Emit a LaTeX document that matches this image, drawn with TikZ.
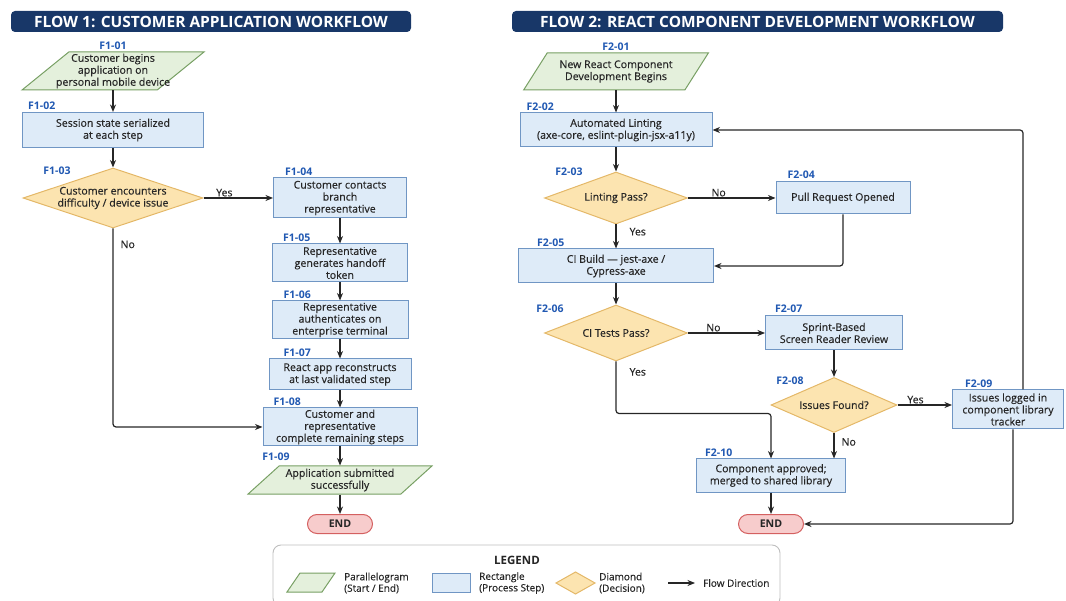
\documentclass[tikz,border=0pt]{standalone}
\usepackage{fontspec}
\setmainfont{Open Sans}
\newfontfamily\boxfont{Open Sans}[FakeBold=0.35]
\usetikzlibrary{positioning, arrows.meta, shapes.geometric}

\definecolor{navy}{RGB}{24,55,104}
\definecolor{idblue}{RGB}{32,88,178}
\definecolor{greenfill}{RGB}{228,240,220}
\definecolor{greenline}{RGB}{120,160,100}
\definecolor{bluefill}{RGB}{222,235,248}
\definecolor{blueline}{RGB}{112,150,196}
\definecolor{tanfill}{RGB}{252,228,176}
\definecolor{tanline}{RGB}{228,184,104}
\definecolor{pinkfill}{RGB}{247,204,204}
\definecolor{pinkline}{RGB}{212,96,96}
\definecolor{flowline}{RGB}{38,38,38}
\definecolor{legline}{RGB}{190,190,190}

\tikzset{
  greenshape/.style={draw=greenline, fill=greenfill, line width=1pt},
  blueshape/.style={draw=blueline, fill=bluefill, line width=1pt},
  tanshape/.style={draw=tanline, fill=tanfill, line width=1pt},
  boxtext/.style={align=center, font=\boxfont\fontsize{10.6}{12}\selectfont, text=black!85},
  proc/.style={blueshape, boxtext, inner sep=0pt},
  startend/.style={greenshape, boxtext, trapezium, trapezium stretches=true, inner xsep=-22pt, inner ysep=0pt},
  decision/.style={tanshape, boxtext, diamond, inner sep=-6pt},
  endpill/.style={draw=pinkline, fill=pinkfill, line width=1pt, rounded corners=9.5pt,
    minimum width=65pt, minimum height=19pt, inner sep=0pt, font=\fontsize{10.6}{12}\selectfont\bfseries, text=black!85},
  titlebar/.style={fill=navy, rounded corners=4pt, minimum height=21pt, inner sep=0pt,
    text=white, font=\fontsize{15.5}{17}\selectfont\bfseries},
  idlab/.style={text=idblue, font=\fontsize{10.5}{12}\selectfont\bfseries, inner sep=1pt},
  edgelab/.style={font=\boxfont\fontsize{10.5}{12}\selectfont, text=black!85, inner sep=1pt},
  legtext/.style={align=left, anchor=west, font=\boxfont\fontsize{10}{11.5}\selectfont, text=black!85, inner sep=0pt},
  flow/.style={->, draw=flowline, line width=1.2pt, rounded corners=3pt},
  >={Stealth[length=7.5pt, width=6pt]}
}

\begin{document}
\begin{tikzpicture}[x=1pt, y=-1pt]
    \useasboundingbox (0,0) rectangle (1066,601);

    % Titles
    \node[titlebar, minimum width=400pt] (title1) at (211,21.5) {FLOW 1: CUSTOMER APPLICATION WORKFLOW};
    \node[titlebar, minimum width=491pt] (title2) at (757.5,21.5) {FLOW 2: REACT COMPONENT DEVELOPMENT WORKFLOW};

    % Flow 1 steps
    \node[startend, trapezium left angle=43, trapezium right angle=137, minimum width=182pt, minimum height=38pt] (f101) at (113,71) {Customer begins\\application on\\personal mobile device};
    \node[proc, minimum width=181pt, minimum height=35pt] (f102) at (113,130) {Session state serialized\\at each step};
    \node[decision, aspect=3, minimum width=180pt, minimum height=60pt] (f103) at (113,198) {Customer encounters\\difficulty / device issue};
    \node[proc, minimum width=133pt, minimum height=40pt] (f104) at (340,198) {Customer contacts\\branch\\representative};
    \node[proc, minimum width=135pt, minimum height=38pt] (f105) at (340,263) {Representative\\generates handoff\\token};
    \node[proc, minimum width=136pt, minimum height=38pt] (f106) at (340,320) {Representative\\authenticates on\\enterprise terminal};
    \node[proc, minimum width=142pt, minimum height=31pt] (f107) at (340,374.5) {React app reconstructs\\at last validated step};
    \node[proc, minimum width=154pt, minimum height=38pt] (f108) at (340,427) {Customer and\\representative\\complete remaining steps};
    \node[startend, trapezium left angle=54, trapezium right angle=126, minimum width=185pt, minimum height=28pt] (f109) at (340,480) {Application submitted\\successfully};
    \node[endpill] (end1) at (340,524) {END};

    % Flow 1 step ids
    \node[idlab, above=1pt of f101] (l101) {F1-01};
    \node[idlab, anchor=south west] (l102) at ([xshift=5pt, yshift=1pt]f102.north west) {F1-02};
    \node[idlab] (l103) at (57,171) {F1-03};
    \node[idlab, anchor=south west] (l104) at ([xshift=11pt, yshift=1pt]f104.north west) {F1-04};
    \node[idlab, anchor=south west] (l105) at ([xshift=10pt, yshift=1pt]f105.north west) {F1-05};
    \node[idlab, anchor=south west] (l106) at ([xshift=11pt, yshift=1pt]f106.north west) {F1-06};
    \node[idlab, anchor=south west] (l107) at ([xshift=14pt, yshift=1pt]f107.north west) {F1-07};
    \node[idlab, anchor=south west] (l108) at ([xshift=10pt, yshift=1pt]f108.north west) {F1-08};
    \node[idlab] (l109) at (276,457) {F1-09};

    % Flow 1 connectors
    \draw[flow] (f101) -- (f102);
    \draw[flow] (f102) -- (f103);
    \draw[flow] (f103) -- node[edgelab, above, pos=0.3] (y103) {Yes} (f104);
    \draw[flow] (f104) -- (f105);
    \draw[flow] (f105) -- (f106);
    \draw[flow] (f106) -- (f107);
    \draw[flow] (f107) -- (f108);
    \draw[flow] (f103.south) |- node[edgelab, right=6pt, pos=0.04] (n103) {No} (f108.west);
    \draw[flow] (f108) -- (f109);
    \draw[flow] (f109) -- (end1);

    % Flow 2 steps
    \node[startend, trapezium left angle=62, trapezium right angle=118, minimum width=186pt, minimum height=37pt] (f201) at (616,71.5) {New React Component\\Development Begins};
    \node[proc, minimum width=192pt, minimum height=34pt] (f202) at (616,130) {Automated Linting\\(axe-core, eslint-plugin-jsx-a11y)};
    \node[decision, aspect=2.75, minimum width=143pt, minimum height=52pt] (f203) at (616,198) {Linting Pass?};
    \node[proc, minimum width=134pt, minimum height=32pt] (f204) at (843,198) {Pull Request Opened};
    \node[proc, minimum width=195pt, minimum height=34pt] (f205) at (616,266) {CI Build — jest-axe /\\Cypress-axe};
    \node[decision, aspect=2.55, minimum width=143pt, minimum height=56pt] (f206) at (616,333) {CI Tests Pass?};
    \node[proc, minimum width=137pt, minimum height=34pt] (f207) at (834,333) {Sprint-Based\\Screen Reader Review};
    \node[decision, aspect=2.3, minimum width=126pt, minimum height=55pt] (f208) at (834,405) {Issues Found?};
    \node[proc, minimum width=111pt, minimum height=39pt] (f209) at (1008,409.5) {Issues logged in\\component library\\tracker};
    \node[proc, minimum width=149pt, minimum height=33pt] (f210) at (771,475.5) {Component approved;\\merged to shared library};
    \node[endpill] (end2) at (771,524) {END};

    % Flow 2 step ids
    \node[idlab, above=1pt of f201] (l201) {F2-01};
    \node[idlab, anchor=south west] (l202) at ([xshift=6pt, yshift=1pt]f202.north west) {F2-02};
    \node[idlab] (l203) at (569,172) {F2-03};
    \node[idlab, anchor=south west] (l204) at ([xshift=11pt, yshift=2pt]f204.north west) {F2-04};
    \node[idlab, anchor=south west] (l205) at ([xshift=18pt, yshift=1pt]f205.north west) {F2-05};
    \node[idlab] (l206) at (550,309) {F2-06};
    \node[idlab, anchor=south west] (l207) at ([xshift=9pt, yshift=2pt]f207.north west) {F2-07};
    \node[idlab] (l208) at (790,381) {F2-08};
    \node[idlab, anchor=south west] (l209) at ([xshift=12pt, yshift=1pt]f209.north west) {F2-09};
    \node[idlab, anchor=south west] (l210) at ([xshift=8pt, yshift=1pt]f210.north west) {F2-10};

    % Flow 2 connectors
    \draw[flow] (f201) -- (f202);
    \draw[flow] (f202) -- (f203);
    \draw[flow] (f203) -- node[edgelab, above, pos=0.35] (n203) {No} (f204);
    \draw[flow] (f203) -- node[edgelab, right=12pt, pos=0.3] (y203) {Yes} (f205);
    \draw[flow] (f204.south) |- (f205.east);
    \draw[flow] (f205) -- (f206);
    \draw[flow] (f206) -- node[edgelab, above, pos=0.33] (n206) {No} (f207);
    \draw[flow] (f206.south) -- node[edgelab, right=12pt, pos=0.2] (y206) {Yes} ++(0,52) -| (f210.north);
    \draw[flow] (f207) -- (f208);
    \draw[flow] (f208.east) -- node[edgelab, above, pos=0.33] (y208) {Yes} (f208.east -| f209.west);
    \draw[flow] (f208.south) -- node[edgelab, right=6pt, pos=0.35] (n208) {No} (f208.south |- f210.north);
    \draw[flow] ([xshift=15pt]f209.north) |- (f202.east);
    \draw[flow] ([xshift=5pt]f209.south) |- (end2.east);
    \draw[flow] (f210) -- (end2);

    % Legend
    \draw[legline, line width=0.9pt, rounded corners=8pt] (273,545) rectangle (780,606);
    \node[font=\fontsize{11.5}{13}\selectfont\bfseries, text=black!85] (legend) at (517,560) {LEGEND};
    \draw[greenshape] (287,592) -- (300,573) -- (335,573) -- (322,592) -- cycle;
    \node[legtext] (lg1) at (344,583) {Parallelogram\\(Start / End)};
    \draw[blueshape] (432,573) rectangle (470,592);
    \node[legtext] (lg2) at (479,583) {Rectangle\\(Process Step)};
    \draw[tanshape] (556,583) -- (575.5,572) -- (595,583) -- (575.5,594) -- cycle;
    \node[legtext] (lg3) at (599,583) {Diamond\\(Decision)};
    \coordinate (arr1) at (668,583);
    \coordinate (arr2) at (695,583);
    \draw[flow] (arr1) -- (arr2);
    \node[legtext] (lg4) at (703,583) {Flow Direction};
\end{tikzpicture}
\end{document}
